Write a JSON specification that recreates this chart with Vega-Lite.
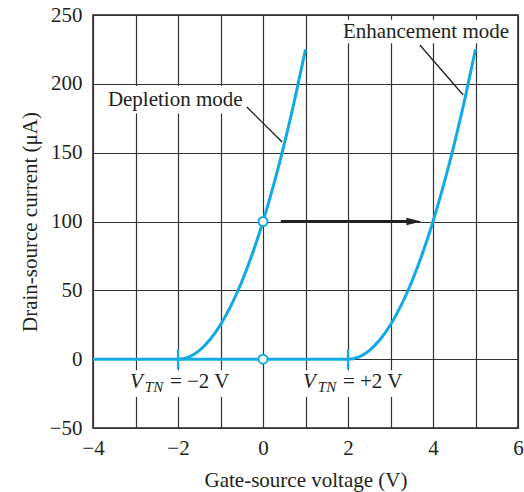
{
  "$schema": "https://vega.github.io/schema/vega-lite/v6.json",
  "width": 425,
  "height": 413,
  "autosize": {"type": "none"},
  "padding": {"left": 93, "top": 15, "right": 6, "bottom": 64},
  "background": "white",
  "config": {
    "view": {"stroke": "#231f20", "strokeWidth": 1.5},
    "font": "Liberation Serif",
    "axis": {
      "labelFont": "Liberation Serif",
      "titleFont": "Liberation Serif",
      "labelFontSize": 21,
      "titleFontSize": 21,
      "labelColor": "#231f20",
      "titleColor": "#231f20",
      "titleFontWeight": "normal",
      "grid": true,
      "gridColor": "#333333",
      "gridWidth": 1.2,
      "gridOpacity": 1,
      "ticks": false,
      "domain": false,
      "labelFlush": false,
      "labelOverlap": false
    }
  },
  "datasets": {
    "depletion": [
      {"v": -4, "i": 0}, {"v": -2, "i": 0}, {"v": -1.75, "i": 1.5625}, {"v": -1.5, "i": 6.25},
      {"v": -1.25, "i": 14.0625}, {"v": -1, "i": 25}, {"v": -0.75, "i": 39.0625}, {"v": -0.5, "i": 56.25},
      {"v": -0.25, "i": 76.5625}, {"v": 0, "i": 100}, {"v": 0.25, "i": 126.5625}, {"v": 0.5, "i": 156.25},
      {"v": 0.75, "i": 189.0625}, {"v": 1, "i": 225}
    ],
    "enhancement": [
      {"v": -2, "i": 0}, {"v": 2, "i": 0}, {"v": 2.25, "i": 1.5625}, {"v": 2.5, "i": 6.25},
      {"v": 2.75, "i": 14.0625}, {"v": 3, "i": 25}, {"v": 3.25, "i": 39.0625}, {"v": 3.5, "i": 56.25},
      {"v": 3.75, "i": 76.5625}, {"v": 4, "i": 100}, {"v": 4.25, "i": 126.5625}, {"v": 4.5, "i": 156.25},
      {"v": 4.75, "i": 189.0625}, {"v": 5, "i": 225}
    ],
    "boxes": [
      {"x1": -3.78, "x2": -0.32, "y1": 178.5, "y2": 198.5},
      {"x1": 1.8, "x2": 5.9, "y1": 229.5, "y2": 246.5},
      {"x1": -3.18, "x2": -0.72, "y1": -27.5, "y2": -8},
      {"x1": 0.92, "x2": 3.22, "y1": -27.5, "y2": -8}
    ],
    "labels": [
      {"x": -3.65, "y": 184, "text": "Depletion mode"},
      {"x": 1.88, "y": 233.3, "text": "Enhancement mode"},
      {"x": -2.19, "y": -20.9, "text": "= −2 V"},
      {"x": 1.88, "y": -20.9, "text": "= +2 V"}
    ],
    "vlabels": [
      {"x": -3.13, "y": -20.9, "text": "V"},
      {"x": 0.94, "y": -20.9, "text": "V"}
    ],
    "sublabels": [
      {"x": -2.78, "y": -23.9, "text": "TN"},
      {"x": 1.29, "y": -23.9, "text": "TN"}
    ],
    "leaders": [
      {"x1": -0.38, "y1": 183.2, "x2": 0.45, "y2": 157.7},
      {"x1": 3.69, "y1": 228.2, "x2": 4.71, "y2": 191.9}
    ],
    "arrow": [{"x1": 0.42, "x2": 3.45, "y": 100}],
    "arrowhead": [{"x": 3.55, "y": 100}],
    "vtticks": [{"x": -2, "y1": -7.3, "y2": 7.3}, {"x": 2, "y1": -7.3, "y2": 7.3}],
    "circles": [{"x": 0, "y": 100}, {"x": 0, "y": 0}]
  },
  "layer": [
    {
      "data": {"name": "boxes"},
      "mark": {"type": "rect", "fill": "white", "stroke": null},
      "encoding": {
        "x": {"field": "x1", "type": "quantitative", "scale": {"domain": [-4, 6], "nice": false, "zero": false},
          "axis": {"title": "Gate-source voltage (V)", "values": [-4, -3, -2, -1, 0, 1, 2, 3, 4, 5, 6],
            "labelExpr": "datum.value % 2 === 0 ? datum.label : ''", "labelPadding": 9, "titlePadding": 11}},
        "x2": {"field": "x2"},
        "y": {"field": "y1", "type": "quantitative", "scale": {"domain": [-50, 250], "nice": false, "zero": false},
          "axis": {"title": "Drain-source current (μA)", "values": [-50, -25, 0, 25, 50, 75, 100, 125, 150, 175, 200, 225, 250],
            "labelExpr": "datum.value % 50 === 0 ? datum.label : ''", "labelPadding": 11, "titlePadding": 9}},
        "y2": {"field": "y2"}
      }
    },
    {
      "data": {"name": "leaders"},
      "mark": {"type": "rule", "color": "#231f20", "strokeWidth": 1.3},
      "encoding": {
        "x": {"field": "x1", "type": "quantitative"}, "x2": {"field": "x2"},
        "y": {"field": "y1", "type": "quantitative"}, "y2": {"field": "y2"}
      }
    },
    {
      "data": {"name": "arrow"},
      "mark": {"type": "rule", "color": "#231f20", "strokeWidth": 3},
      "encoding": {
        "x": {"field": "x1", "type": "quantitative"}, "x2": {"field": "x2"},
        "y": {"field": "y", "type": "quantitative"}
      }
    },
    {
      "data": {"name": "arrowhead"},
      "mark": {"type": "point", "shape": "M-1,-0.5L1,0L-1,0.5Z", "size": 225, "filled": true, "color": "#231f20", "opacity": 1},
      "encoding": {
        "x": {"field": "x", "type": "quantitative"},
        "y": {"field": "y", "type": "quantitative"}
      }
    },
    {
      "data": {"name": "depletion"},
      "mark": {"type": "line", "color": "#12aae6", "strokeWidth": 3, "interpolate": "monotone"},
      "encoding": {
        "x": {"field": "v", "type": "quantitative"},
        "y": {"field": "i", "type": "quantitative"}
      }
    },
    {
      "data": {"name": "enhancement"},
      "mark": {"type": "line", "color": "#12aae6", "strokeWidth": 3, "interpolate": "monotone"},
      "encoding": {
        "x": {"field": "v", "type": "quantitative"},
        "y": {"field": "i", "type": "quantitative"}
      }
    },
    {
      "data": {"name": "vtticks"},
      "mark": {"type": "rule", "color": "#12aae6", "strokeWidth": 2.2},
      "encoding": {
        "x": {"field": "x", "type": "quantitative"},
        "y": {"field": "y1", "type": "quantitative"}, "y2": {"field": "y2"}
      }
    },
    {
      "data": {"name": "circles"},
      "mark": {"type": "point", "shape": "circle", "size": 81, "filled": false, "fill": "white", "fillOpacity": 1, "stroke": "#12aae6", "strokeWidth": 2, "opacity": 1},
      "encoding": {
        "x": {"field": "x", "type": "quantitative"},
        "y": {"field": "y", "type": "quantitative"}
      }
    },
    {
      "data": {"name": "labels"},
      "mark": {"type": "text", "align": "left", "baseline": "alphabetic", "font": "Liberation Serif", "fontSize": 21, "color": "#231f20"},
      "encoding": {
        "x": {"field": "x", "type": "quantitative"},
        "y": {"field": "y", "type": "quantitative"},
        "text": {"field": "text"}
      }
    },
    {
      "data": {"name": "vlabels"},
      "mark": {"type": "text", "align": "left", "baseline": "alphabetic", "font": "Liberation Serif", "fontStyle": "italic", "fontSize": 21, "color": "#231f20"},
      "encoding": {
        "x": {"field": "x", "type": "quantitative"},
        "y": {"field": "y", "type": "quantitative"},
        "text": {"field": "text"}
      }
    },
    {
      "data": {"name": "sublabels"},
      "mark": {"type": "text", "align": "left", "baseline": "alphabetic", "font": "Liberation Serif", "fontStyle": "italic", "fontSize": 15, "color": "#231f20"},
      "encoding": {
        "x": {"field": "x", "type": "quantitative"},
        "y": {"field": "y", "type": "quantitative"},
        "text": {"field": "text"}
      }
    }
  ]
}
